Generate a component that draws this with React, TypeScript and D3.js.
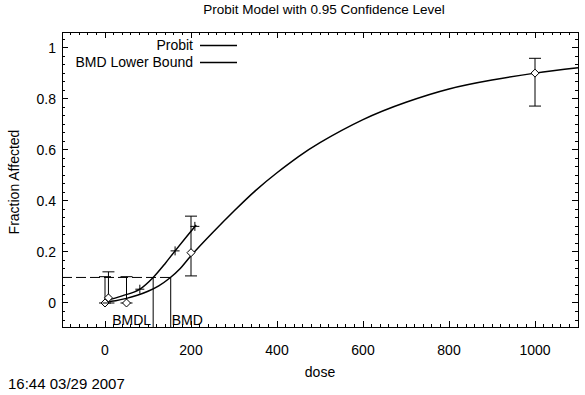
import React from 'react';
import * as d3 from 'd3';

const titleText = 'Probit Model with 0.95 Confidence Level';
const xLabel = 'dose';
const yLabel = 'Fraction Affected';
const stamp = '16:44 03/29 2007';
const legendLabels = ['Probit', 'BMD Lower Bound'];

const xTicks = [0, 200, 400, 600, 800, 1000];
const yTicks = [0, 0.2, 0.4, 0.6, 0.8, 1];
const yTickLabels = ['0', '0.2', '0.4', '0.6', '0.8', '1'];

const obsDose = [0, 8, 50, 200, 1000];
const obsFrac = [0, 0.02, 0, 0.197, 0.9];
const obsLower = [0, 0, 0, 0.106, 0.771];
const obsUpper = [0.103, 0.122, 0.103, 0.34, 0.958];

const probitDose = [0, 25, 50, 75, 100, 125, 150, 175, 200, 250, 300, 350, 400, 450, 500, 600, 700, 800, 900, 1000, 1100];
const probitFrac = [0.004, 0.009, 0.018, 0.03, 0.046, 0.067, 0.097, 0.135, 0.185, 0.275, 0.36, 0.44, 0.51, 0.573, 0.628, 0.718, 0.786, 0.838, 0.873, 0.9, 0.921];

const lowerDose = [0, 40, 81, 112, 140, 163, 190, 212];
const lowerFrac = [0.008, 0.028, 0.054, 0.1, 0.155, 0.204, 0.26, 0.305];
const markerDose = [81, 163, 209];
const markerFrac = [0.054, 0.204, 0.3];

const bmr = 0.1;
const bmd = 152.8;
const bmdl = 112;

const W = 585, H = 395;
const FONT = 'Liberation Sans, Arial, sans-serif';

export default function App() {
  const x = d3.scaleLinear().domain([-100, 1100]).range([62, 578]);
  const y = d3.scaleLinear().domain([-0.094, 1.061]).range([327, 32]);
  const [x0, x1] = x.range();
  const [y0, y1] = y.range();

  const probitLine = d3.line<[number, number]>().x(d => x(d[0])).y(d => y(d[1])).curve(d3.curveNatural);
  const lowerLine = d3.line<[number, number]>().x(d => x(d[0])).y(d => y(d[1])).curve(d3.curveMonotoneX);
  const probitPath = probitLine(probitDose.map((d, i) => [d, probitFrac[i]]))!;
  const lowerPath = lowerLine(lowerDose.map((d, i) => [d, lowerFrac[i]]))!;

  const xMinor = d3.range(-100, 1101, 20).filter(v => v % 200 !== 0);
  const yStep = 0.2 / 6;
  const yMinor = d3.range(-2, 32).map(k => k * yStep).filter(v => v >= -0.094 && v <= 1.061 && Math.abs(v / 0.2 - Math.round(v / 0.2)) > 1e-6);

  const maj = 6, mnr = 3;
  const cap = 6;
  const dm = 4;
  const fs = 14;

  return (
    <svg width={W} height={H} style={{ position: 'absolute', left: 0, top: 0, background: '#fff' }} fontFamily={FONT}>
      <rect x={0} y={0} width={W} height={H} fill="#fff" />
      <text x={324} y={14} textAnchor="middle" fontSize={13.5}>{titleText}</text>

      {/* ticks */}
      <g stroke="#000" strokeWidth={1} shapeRendering="crispEdges">
        {xTicks.map(v => (
          <g key={'xt' + v}>
            <line x1={x(v)} x2={x(v)} y1={y0} y2={y0 - maj} />
            <line x1={x(v)} x2={x(v)} y1={y1} y2={y1 + maj} />
          </g>
        ))}
        {xMinor.map(v => (
          <g key={'xm' + v}>
            <line x1={x(v)} x2={x(v)} y1={y0} y2={y0 - mnr} />
            <line x1={x(v)} x2={x(v)} y1={y1} y2={y1 + mnr} />
          </g>
        ))}
        {yTicks.map(v => (
          <g key={'yt' + v}>
            <line x1={x0} x2={x0 + maj} y1={y(v)} y2={y(v)} />
            <line x1={x1} x2={x1 - maj} y1={y(v)} y2={y(v)} />
          </g>
        ))}
        {yMinor.map(v => (
          <g key={'ym' + v}>
            <line x1={x0} x2={x0 + mnr} y1={y(v)} y2={y(v)} />
            <line x1={x1} x2={x1 - mnr} y1={y(v)} y2={y(v)} />
          </g>
        ))}
        <rect x={x0} y={y1} width={x1 - x0} height={y0 - y1} fill="none" />
      </g>

      {/* tick labels */}
      <g fontSize={fs} fill="#000">
        {xTicks.map(v => (
          <text key={'xl' + v} x={x(v)} y={355} textAnchor="middle">{v}</text>
        ))}
        {yTicks.map((v, i) => (
          <text key={'yl' + v} x={56} y={y(v) + 5} textAnchor="end">{yTickLabels[i]}</text>
        ))}
      </g>
      <text x={320} y={377} textAnchor="middle" fontSize={fs}>{xLabel}</text>
      <text transform={`translate(19,182) rotate(-90)`} textAnchor="middle" fontSize={fs}>{yLabel}</text>
      <text x={8} y={389} fontSize={15}>{stamp}</text>

      {/* legend */}
      <g fontSize={fs}>
        {legendLabels.map((l, i) => (
          <g key={l}>
            <text x={193} y={50 + i * 17} textAnchor="end">{l}</text>
            <line x1={200} x2={237} y1={45.5 + i * 17} y2={45.5 + i * 17} stroke="#000" strokeWidth={1.5} />
          </g>
        ))}
      </g>

      {/* BMD lines */}
      <line x1={x0} x2={x(bmd)} y1={y(bmr)} y2={y(bmr)} stroke="#000" strokeWidth={1} strokeDasharray="10,4" />
      <line x1={x(bmdl)} x2={x(bmdl)} y1={y(bmr)} y2={y0} stroke="#000" strokeWidth={1} />
      <line x1={x(bmd)} x2={x(bmd)} y1={y(bmr)} y2={y0} stroke="#000" strokeWidth={1} />
      <text x={x(bmdl) - 2} y={325} textAnchor="end" fontSize={fs}>BMDL</text>
      <text x={x(bmd) + 1} y={325} textAnchor="start" fontSize={fs}>BMD</text>

      {/* curves */}
      <path d={probitPath} fill="none" stroke="#000" strokeWidth={1.5} />
      <path d={lowerPath} fill="none" stroke="#000" strokeWidth={1.5} />
      {markerDose.map((d, i) => (
        <g key={'m' + i} stroke="#000" strokeWidth={1}>
          <line x1={x(d) - 4.5} x2={x(d) + 4.5} y1={y(markerFrac[i])} y2={y(markerFrac[i])} />
          <line x1={x(d)} x2={x(d)} y1={y(markerFrac[i]) - 4.5} y2={y(markerFrac[i]) + 4.5} />
        </g>
      ))}

      {/* observations */}
      {obsDose.map((d, i) => {
        const cx = x(d), cy = y(obsFrac[i]);
        return (
          <g key={'o' + i} stroke="#000" strokeWidth={1} fill="none">
            <line x1={cx} x2={cx} y1={y(obsLower[i])} y2={y(obsUpper[i])} />
            <line x1={cx - cap} x2={cx + cap} y1={y(obsLower[i])} y2={y(obsLower[i])} />
            <line x1={cx - cap} x2={cx + cap} y1={y(obsUpper[i])} y2={y(obsUpper[i])} />
            <path d={`M${cx - dm},${cy}L${cx},${cy - dm}L${cx + dm},${cy}L${cx},${cy + dm}Z`} fill="#fff" />
          </g>
        );
      })}
    </svg>
  );
}
